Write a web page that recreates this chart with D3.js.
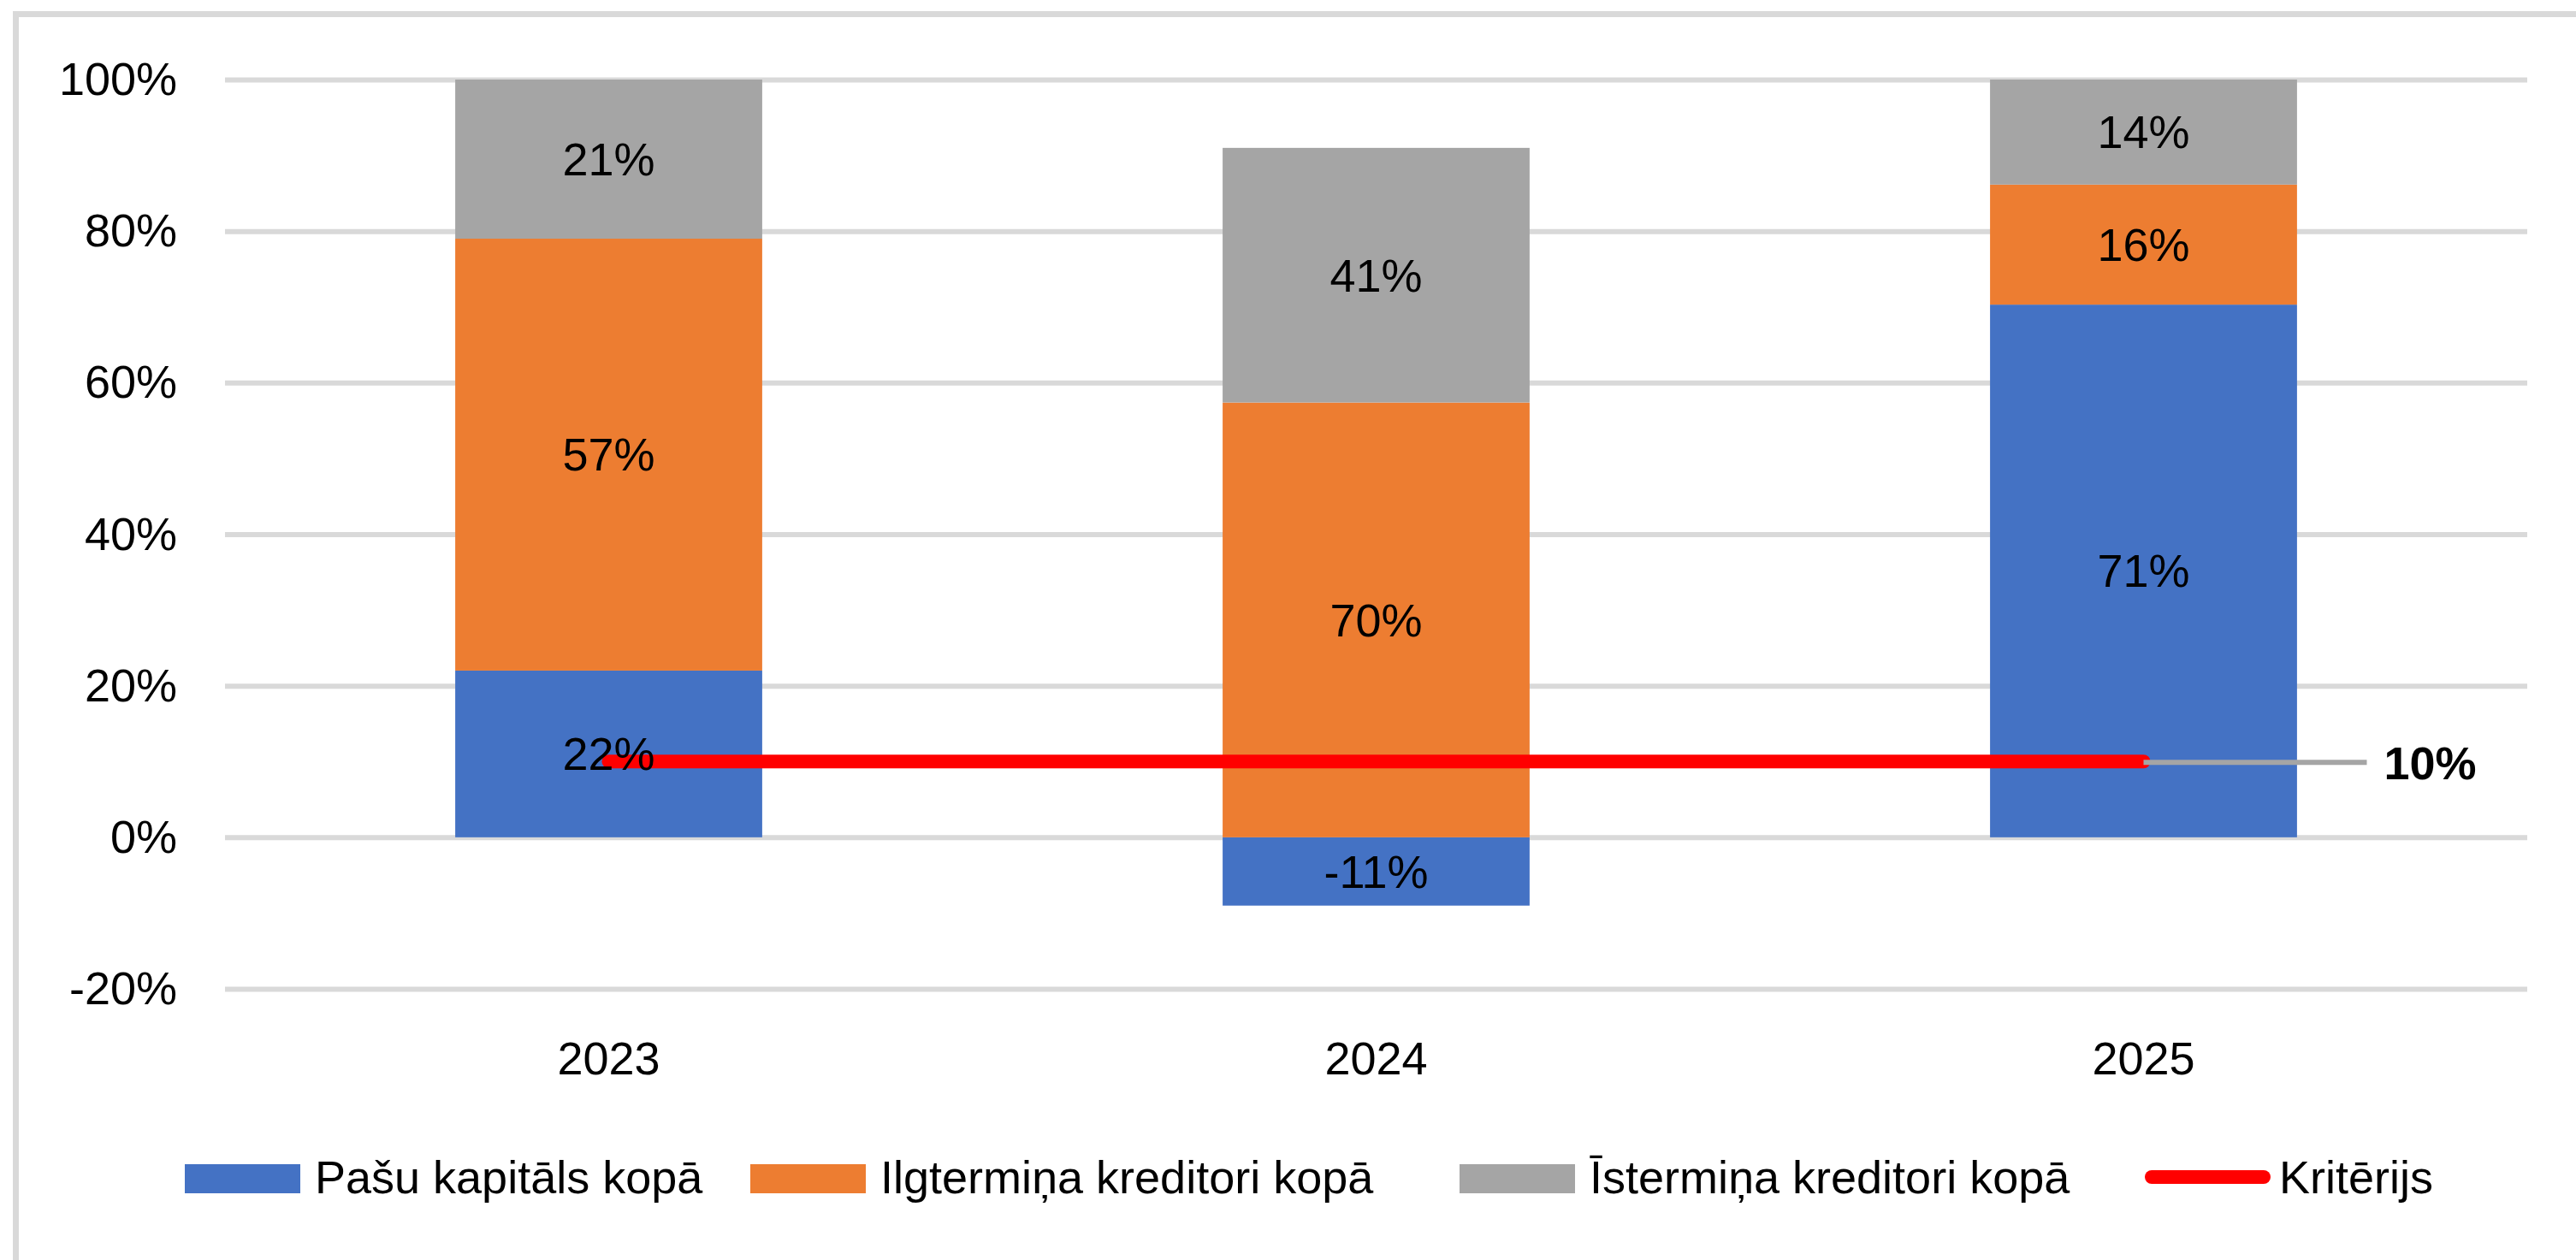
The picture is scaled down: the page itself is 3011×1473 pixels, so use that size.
<!DOCTYPE html>
<html>
<head>
<meta charset="utf-8">
<script src="https://cdn.jsdelivr.net/npm/d3@7"></script>
<style>
  body { margin: 0; background: #fff; }
  text { font-family: "Liberation Sans", Arial, sans-serif; fill: #000; }
</style>
</head>
<body>
<svg></svg>
<script>
const years = ['2023', '2024', '2025'];
const pasuKapitals = [22, -11, 71];
const ilgtermina = [57, 70, 16];
const istermina = [21, 41, 14];
const kriterijs = [10, 10, 10];
const yTicks = [-20, 0, 20, 40, 60, 80, 100];

const seriesNames = ['Pašu kapitāls kopā', 'Ilgtermiņa kreditori kopā', 'Īstermiņa kreditori kopā'];
const seriesColors = ['#4472C4', '#ED7D31', '#A5A5A5'];
const lineName = 'Kritērijs';

const width = 3011;
const height = 1473;
const fontSize = 54;

const svg = d3.select('svg')
  .attr('width', width)
  .attr('height', height);

// frame (only top and left edges show in the original)
svg.append('rect').attr('x', 15).attr('y', 13).attr('width', width).attr('height', 7).attr('fill', '#d9d9d9');
svg.append('rect').attr('x', 15).attr('y', 13).attr('width', 7).attr('height', height).attr('fill', '#d9d9d9');

// 100% stacked: each value is shared out of the sum of absolute values
const table = years.map((y, i) => {
  const vals = [pasuKapitals[i], ilgtermina[i], istermina[i]];
  const total = d3.sum(vals, v => Math.abs(v));
  const row = { year: y };
  vals.forEach((v, k) => { row['s' + k] = v / total; row['raw' + k] = v; });
  return row;
});

const stack = d3.stack()
  .keys(['s0', 's1', 's2'])
  .offset(d3.stackOffsetDiverging);
const stacked = stack(table);

const xScale = d3.scaleBand()
  .domain(years)
  .range([263, 2954])
  .paddingInner(0.6)
  .paddingOuter(0.3);

const yScale = d3.scaleLinear()
  .domain([-0.2, 1])
  .range([1156, 93]);

// grid lines
svg.append('g')
  .attr('transform', 'translate(263,0)')
  .call(d3.axisLeft(yScale).tickValues(yTicks.map(t => t / 100)).tickSize(-(2954 - 263)).tickFormat(''))
  .call(g => g.select('.domain').remove())
  .call(g => g.selectAll('line').attr('stroke', '#d9d9d9').attr('stroke-width', 6));

// y tick labels
svg.append('g')
  .selectAll('text')
  .data(yTicks)
  .enter()
  .append('text')
  .attr('x', 207)
  .attr('y', t => yScale(t / 100) + 18)
  .attr('text-anchor', 'end')
  .attr('font-size', fontSize)
  .text(t => t + '%');

// x labels
svg.append('g')
  .selectAll('text')
  .data(years)
  .enter()
  .append('text')
  .attr('x', y => xScale(y) + xScale.bandwidth() / 2)
  .attr('y', 1256)
  .attr('text-anchor', 'middle')
  .attr('font-size', fontSize)
  .text(y => y);

// bars
const layers = svg.append('g')
  .selectAll('g')
  .data(stacked)
  .enter()
  .append('g')
  .attr('fill', (d, i) => seriesColors[i]);

layers.selectAll('rect')
  .data(d => d)
  .enter()
  .append('rect')
  .attr('x', d => xScale(d.data.year))
  .attr('y', d => yScale(Math.max(d[0], d[1])))
  .attr('height', d => Math.abs(yScale(d[0]) - yScale(d[1])))
  .attr('width', xScale.bandwidth());

// criterion line
const cx = y => xScale(y) + xScale.bandwidth() / 2;
const line = d3.line()
  .x((d, i) => cx(years[i]))
  .y(d => yScale(d / 100));

svg.append('path')
  .datum(kriterijs)
  .attr('d', line)
  .attr('fill', 'none')
  .attr('stroke', '#FF0000')
  .attr('stroke-width', 16)
  .attr('stroke-linecap', 'round');

// leader line and label for the last criterion point
const lastIdx = years.length - 1;
const lastY = yScale(kriterijs[lastIdx] / 100);
svg.append('line')
  .attr('x1', cx(years[lastIdx]))
  .attr('x2', cx(years[lastIdx]) + 261)
  .attr('y1', lastY + 1)
  .attr('y2', lastY + 1)
  .attr('stroke', '#A5A5A5')
  .attr('stroke-width', 6);

svg.append('text')
  .attr('x', cx(years[lastIdx]) + 281)
  .attr('y', lastY + 21)
  .attr('font-size', fontSize)
  .attr('font-weight', 'bold')
  .text(kriterijs[lastIdx] + '%');

// data labels
stacked.forEach((layer, k) => {
  svg.append('g')
    .selectAll('text')
    .data(layer)
    .enter()
    .append('text')
    .attr('x', d => cx(d.data.year))
    .attr('y', d => (yScale(d[0]) + yScale(d[1])) / 2 + 19)
    .attr('text-anchor', 'middle')
    .attr('font-size', fontSize)
    .text(d => d.data['raw' + k] + '%');
});

// legend
const legendX = [216, 877, 1706, 2507];
const legend = svg.append('g');
seriesNames.forEach((name, i) => {
  legend.append('rect')
    .attr('x', legendX[i])
    .attr('y', 1361)
    .attr('width', 135)
    .attr('height', 34)
    .attr('fill', seriesColors[i]);
  legend.append('text')
    .attr('x', legendX[i] + 152)
    .attr('y', 1395)
    .attr('font-size', fontSize)
    .text(name);
});
legend.append('line')
  .attr('x1', legendX[3] + 8)
  .attr('x2', legendX[3] + 139)
  .attr('y1', 1376)
  .attr('y2', 1376)
  .attr('stroke', '#FF0000')
  .attr('stroke-width', 16)
  .attr('stroke-linecap', 'round');
legend.append('text')
  .attr('x', legendX[3] + 157)
  .attr('y', 1395)
  .attr('font-size', fontSize)
  .text(lineName);
</script>
</body>
</html>
